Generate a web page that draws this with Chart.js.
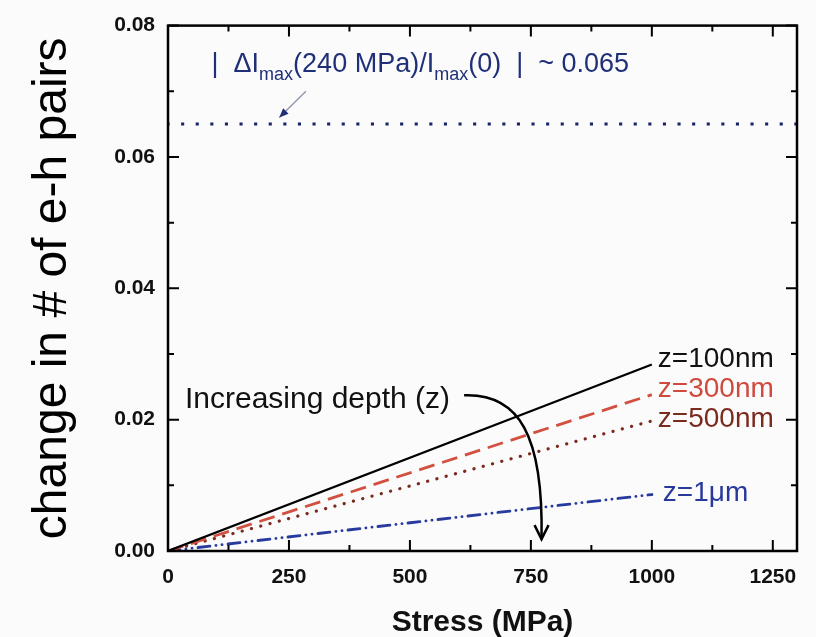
<!DOCTYPE html>
<html>
<head>
<meta charset="utf-8">
<script src="https://cdn.jsdelivr.net/npm/chart.js@4.4.0/dist/chart.umd.min.js"></script>
<style>
  html, body { margin: 0; padding: 0; background: #fbfbfb; }
  #wrap { width: 816px; height: 637px; }
</style>
</head>
<body>
<div id="wrap"><canvas id="c" width="816" height="637"></canvas></div>
<script>
// stress values (MPa) at the ends of each simulated line
const stress = [0, 1000];
const z100nm = [0, 0.0284];
const z300nm = [0, 0.0238];
const z500nm = [0, 0.0198];
const z1um = [0, 0.0086];
// reference level |dImax(240 MPa)/Imax(0)|
const refStress = [0, 1300];
const refLevel = [0.065, 0.065];

const xTicks = [0, 250, 500, 750, 1000, 1250];
const yTicks = [0, 0.02, 0.04, 0.06, 0.08];

const FONT = "'Liberation Sans', Arial, sans-serif";

const toPts = (xs, ys) => xs.map((x, i) => ({ x: x, y: ys[i] }));

// frame + inward tick marks, like the original plot
const framePlugin = {
  id: 'frame',
  afterDraw(chart) {
    const { ctx, chartArea: a, scales: { x, y } } = chart;
    ctx.save();
    ctx.strokeStyle = '#000';
    ctx.lineWidth = 2;
    for (let v = 0; v <= 1300; v += 125) {
      const px = x.getPixelForValue(v);
      const len = v % 250 === 0 ? 11 : 6;
      ctx.beginPath();
      ctx.moveTo(px, a.bottom); ctx.lineTo(px, a.bottom - len);
      ctx.moveTo(px, a.top); ctx.lineTo(px, a.top + len);
      ctx.stroke();
    }
    for (let i = 0; i <= 8; i++) {
      const py = y.getPixelForValue(i * 0.01);
      const len = i % 2 === 0 ? 11 : 6;
      ctx.beginPath();
      ctx.moveTo(a.left, py); ctx.lineTo(a.left + len, py);
      ctx.moveTo(a.right, py); ctx.lineTo(a.right - len, py);
      ctx.stroke();
    }
    ctx.lineWidth = 2.5;
    ctx.strokeRect(a.left, a.top, a.right - a.left, a.bottom - a.top);
    ctx.restore();
  }
};

// text labels and arrows
const notesPlugin = {
  id: 'notes',
  afterDatasetsDraw(chart) {
    const { ctx, scales: { x, y } } = chart;
    const X = v => x.getPixelForValue(v);
    const Y = v => y.getPixelForValue(v);
    ctx.save();
    ctx.textBaseline = 'middle';
    ctx.textAlign = 'left';
    ctx.font = '28px ' + FONT;

    const ends = [
      ['z=100nm', '#111111', z100nm, -5, 6],
      ['z=300nm', '#cf4a3c', z300nm, -5, 6],
      ['z=500nm', '#7b2b1e', z500nm, -2, 6],
      ['z=1\u03bcm', '#28389c', z1um, -1, 11]
    ];
    ends.forEach(([t, c, s, dy, dx]) => {
      ctx.fillStyle = c;
      ctx.fillText(t, X(stress[1]) + dx, Y(s[1]) + dy);
    });

    ctx.fillStyle = '#111';
    ctx.font = '30px ' + FONT;
    ctx.fillText('Increasing depth (z)', X(35), Y(0.0231));

    // curved arrow
    ctx.strokeStyle = '#000';
    ctx.lineWidth = 2.5;
    const x0 = X(612), y0 = Y(0.0237);
    const x1 = X(772), y1 = Y(0.0018);
    ctx.beginPath();
    ctx.moveTo(x0, y0);
    ctx.bezierCurveTo(x0 + 55, y0 - 2, x1 + 2, y0 + 40, x1, y1);
    ctx.stroke();
    ctx.beginPath();
    ctx.moveTo(x1 - 7, y1 - 14); ctx.lineTo(x1, y1); ctx.lineTo(x1 + 7, y1 - 14);
    ctx.stroke();

    // top annotation with subscripts
    const navy = '#1f2f78';
    ctx.fillStyle = navy;
    let px = X(90), py = Y(0.0740);
    const parts = [
      ['|  \u0394I', 27, 0], ['max', 18, 10], ['(240 MPa)/I', 27, 0],
      ['max', 18, 10], ['(0)  |  ~ 0.065', 27, 0]
    ];
    parts.forEach(([t, sz, dy]) => {
      ctx.font = sz + 'px ' + FONT;
      ctx.fillText(t, px, py + dy);
      px += ctx.measureText(t).width;
    });

    // small pointer arrow to the dotted level
    const ax0 = X(285), ay0 = Y(0.0700);
    const ax1 = X(230), ay1 = Y(0.0660);
    ctx.strokeStyle = '#8890a8';
    ctx.lineWidth = 1.2;
    ctx.beginPath(); ctx.moveTo(ax0, ay0); ctx.lineTo(ax1, ay1); ctx.stroke();
    const ang = Math.atan2(ay1 - ay0, ax1 - ax0);
    ctx.fillStyle = navy;
    ctx.beginPath();
    ctx.moveTo(ax1, ay1);
    ctx.lineTo(ax1 - 10 * Math.cos(ang - 0.4), ay1 - 10 * Math.sin(ang - 0.4));
    ctx.lineTo(ax1 - 10 * Math.cos(ang + 0.4), ay1 - 10 * Math.sin(ang + 0.4));
    ctx.closePath();
    ctx.fill();
    ctx.restore();
  }
};

const lineSet = (label, ys, color, dash, width, cap) => ({
  label: label,
  data: toPts(stress, ys),
  borderColor: color,
  borderWidth: width,
  borderDash: dash,
  borderCapStyle: cap || 'butt',
  pointRadius: 0,
  fill: false
});

const data = {
  datasets: [
    lineSet('z=100nm', z100nm, '#000000', [], 2.2),
    lineSet('z=300nm', z300nm, '#d2503f', [16, 8], 2.8),
    lineSet('z=500nm', z500nm, '#7b2b1e', [0.1, 9.5], 3.2, 'round'),
    lineSet('z=1um', z1um, '#283a9e', [12, 6, 0.1, 6, 0.1, 6], 2.8, 'round'),
    {
      label: 'ref',
      data: toPts(refStress, refLevel),
      borderColor: '#1a2466',
      borderWidth: 3,
      borderDash: [0.1, 14.5],
      borderCapStyle: 'square',
      pointRadius: 0,
      fill: false
    }
  ]
};

const config = {
  type: 'line',
  data,
  options: {
    responsive: false,
    animation: false,
    layout: { padding: { top: 21, right: 19, left: 0, bottom: 0 } },
    plugins: {
      legend: { display: false },
      tooltip: { enabled: false }
    },
    scales: {
      x: {
        type: 'linear',
        min: 0,
        max: 1300,
        afterBuildTicks(scale) { scale.ticks = xTicks.map(v => ({ value: v })); },
        afterFit(scale) { scale.height = 86; },
        grid: { display: false, drawTicks: false },
        border: { display: false },
        ticks: {
          padding: 14,
          color: '#111',
          font: { family: FONT, size: 21, weight: 'bold' },
          callback: v => String(v)
        },
        title: {
          display: true,
          text: 'Stress (MPa)',
          color: '#111',
          font: { family: FONT, size: 30, weight: 'bold' },
          padding: { top: 0, bottom: -4 }
        }
      },
      y: {
        type: 'linear',
        min: 0,
        max: 0.08,
        afterBuildTicks(scale) { scale.ticks = yTicks.map(v => ({ value: v })); },
        afterFit(scale) { scale.width = 168; },
        grid: { display: false, drawTicks: false },
        border: { display: false },
        ticks: {
          padding: 13,
          color: '#111',
          font: { family: FONT, size: 21, weight: 'bold' },
          callback: v => v.toFixed(2)
        },
        title: {
          display: true,
          text: 'change in # of e-h pairs',
          color: '#000',
          font: { family: FONT, size: 48, weight: 'normal' },
          padding: { top: 24, bottom: 0 }
        }
      }
    }
  },
  plugins: [framePlugin, notesPlugin]
};

const myChart = new Chart(document.getElementById('c'), config);
</script>
</body>
</html>
